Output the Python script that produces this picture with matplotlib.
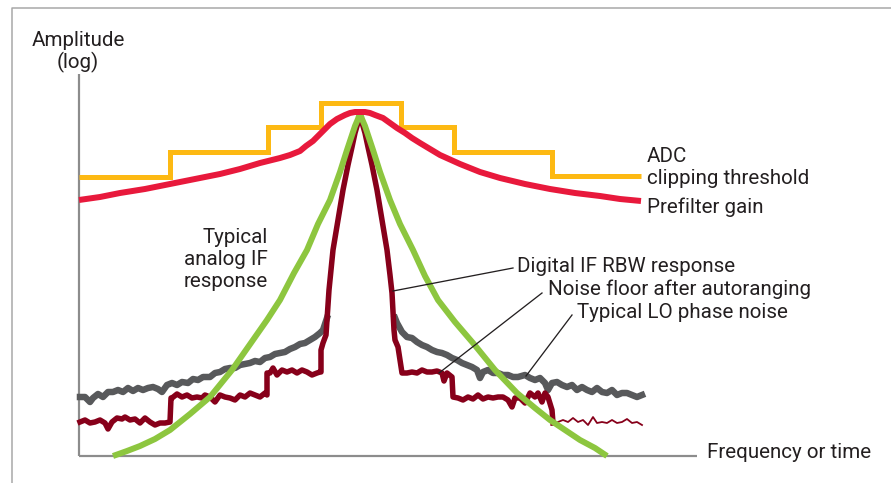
import matplotlib
matplotlib.use("Agg")
import matplotlib.pyplot as plt
from matplotlib import font_manager

# ---------------- data (chart units: x = frequency position, y = level, screen-down) ----
# ADC clipping threshold (stepped)
adc_x = [79, 170, 268, 321, 401, 454, 552, 641]
adc_y = [177, 152, 127, 103, 127, 152, 176, 176]

# Prefilter gain
pre_x = [79, 100, 120, 145, 170, 195, 220, 240, 260, 280, 290, 300, 306, 313, 322, 330, 337, 345, 350, 355,
         360, 365, 370, 375, 383, 390, 397, 405, 412, 420, 430, 440, 460, 480, 500, 525, 550, 575, 600, 620, 641]
pre_y = [200, 197, 193, 189, 184, 179, 174, 169, 163, 158, 155, 151, 146, 141, 132, 124, 119, 115, 113, 112,
         112, 112, 113, 115, 118, 123, 128, 133, 138, 143, 149, 155, 164, 172, 178, 184, 189, 193, 196, 199, 201]

# Typical analog IF response
ana_x = [113, 127, 140, 155, 170, 190, 210, 232, 253, 267, 280, 294, 307, 318, 330, 340, 347, 352, 355, 358, 360,
         362, 365, 368, 373, 380, 390, 400, 413, 425, 438, 455, 473, 495, 517, 535, 550, 565, 580, 595, 607]
ana_y = [456, 451, 446, 439, 430, 414, 397, 370, 340, 320, 300, 273, 250, 224, 200, 172, 150, 135, 126, 119, 113,
         119, 126, 135, 150, 172, 200, 224, 250, 276, 300, 322, 343, 370, 393, 408, 420, 430, 440, 448, 456]

# Typical LO phase noise
lo_x = [80, 85, 90, 93, 98, 103, 108, 113, 118, 123, 128, 133, 138, 143, 148, 153, 158, 162, 167, 172,
        177, 182, 188, 193, 198, 203, 210, 215, 220, 225, 230, 235, 240, 245, 250, 255, 260, 265, 270,
        275, 280, 285, 290, 295, 300, 305, 310, 315, 320, 323, 327,
        395, 397, 402, 407, 412, 417, 422, 427, 432, 437, 442, 447, 452, 457, 462, 467, 472, 477, 480,
        483, 488, 493, 498, 503, 508, 513, 518, 525, 530, 535, 540, 545, 548, 552, 557, 562, 567, 572,
        577, 582, 587, 592, 597, 602, 607, 612, 617, 622, 627, 632, 637, 642]
lo_y = [397, 397, 402, 398, 394, 397, 392, 392, 390, 392, 388, 391, 388, 390, 388, 387, 389, 392, 385, 383,
        385, 382, 383, 379, 380, 377, 377, 373, 372, 369, 368, 368, 365, 364, 363, 361, 362, 358, 357,
        354, 353, 352, 349, 347, 344, 343, 340, 337, 333, 330, 318,
        318, 323, 332, 337, 338, 342, 345, 347, 350, 352, 353, 355, 358, 360, 363, 365, 367, 370, 378,
        372, 370, 373, 373, 375, 375, 377, 377, 375, 378, 380, 378, 383, 390, 383, 382, 385, 387, 385,
        390, 387, 390, 392, 388, 392, 393, 390, 395, 393, 393, 395, 397, 395]

# Digital IF RBW response + noise floor after autoranging (thick part)
rbw_x = [80, 85, 90, 95, 100, 105, 108, 112, 117, 122, 125, 130, 135, 140, 145, 150, 155, 160, 165, 170,
         171, 172, 177, 182, 187, 192, 197, 202, 205, 210, 215, 220, 225, 230, 235, 240, 245, 250, 255,
         260, 265, 267, 267, 270, 273, 277, 282, 287, 292, 297, 302, 307, 312, 317, 320,
         321, 321, 323, 326, 329, 333, 338, 343, 348, 352, 355, 357, 360, 363, 365, 368, 372, 377, 382,
         387, 390, 392, 394, 395, 398, 400,
         402, 407, 412, 417, 422, 427, 432, 437, 442, 444, 447, 452, 453,
         458, 463, 468, 473, 478, 483, 488, 493, 498, 503, 508, 512, 515, 520, 525, 530, 535, 538,
         542, 545, 548, 552, 553]
rbw_y = [422, 420, 423, 422, 420, 423, 429, 422, 418, 419, 417, 420, 419, 423, 418, 422, 425, 423, 423, 422,
         398, 398, 394, 397, 395, 398, 397, 398, 395, 397, 402, 395, 397, 398, 400, 395, 397, 393, 395,
         397, 393, 395, 373, 373, 368, 375, 370, 372, 370, 373, 370, 372, 375, 373, 372,
         372, 350, 343, 335, 290, 250, 220, 190, 165, 147, 133, 126, 116, 126, 133, 147, 165, 190, 220,
         250, 275, 293, 330, 340, 347, 360,
         373, 373, 372, 373, 370, 372, 372, 371, 373, 381, 373, 377, 397,
         398, 400, 397, 399, 395, 399, 397, 398, 397, 397, 400, 407, 398, 398, 403, 393, 397, 393,
         402, 393, 397, 410, 423]

# Noise floor tail (thin)
tail_x = [553, 558, 563, 568, 573, 578, 583, 588, 593, 597, 602, 607, 612, 617, 622, 627, 632, 637, 642]
tail_y = [423, 422, 420, 422, 418, 422, 420, 425, 417, 423, 422, 423, 420, 423, 422, 419, 423, 422, 425]

# Axis geometry (chart frame)
x_axis_x = [79, 697]
x_axis_y = [456, 456]
y_axis_x = [79, 79]
y_axis_y = [74, 456]

# Annotation leader lines: (from, to)
leaders = {
    "Digital IF RBW response": ((393, 291), (513, 268)),
    "Noise floor after autoranging": ((439, 373), (542, 293)),
    "Typical LO phase noise": ((526, 376), (572, 315)),
}

# ---------------- style ----------------
ORANGE = "#FDB913"
RED = "#E8193C"
GREEN = "#8DC63F"
DKRED = "#87001A"
GRAY = "#58595B"
AXIS = "#8C8C8C"
TXT = "#231F20"

names = {f.name for f in font_manager.fontManager.ttflist}
FONT = "Roboto" if "Roboto" in names else "DejaVu Sans"
FS = 14.8

W, H = 891, 483
fig = plt.figure(figsize=(W / 100, H / 100), dpi=100)
ax = fig.add_axes([0, 0, 1, 1])
ax.set_xlim(0, W)
ax.set_ylim(H, 0)
ax.axis("off")

px = 0.72  # points per pixel

# outer frame (left + top)
ax.plot([11.5, 11.5, W + 5], [H + 5, 7.5, 7.5], color="#A6A6A6", lw=1.5 * px, solid_capstyle="butt")

# axes
ax.plot(x_axis_x, x_axis_y, color=AXIS, lw=2.2 * px, solid_capstyle="butt")
ax.plot(y_axis_x, y_axis_y, color=AXIS, lw=2.2 * px, solid_capstyle="butt")

# curves
ax.plot(adc_x, adc_y, drawstyle="steps-post", color=ORANGE, lw=5 * px, solid_joinstyle="miter",
        solid_capstyle="butt", zorder=3)
ax.plot(lo_x[:51], lo_y[:51], color=GRAY, lw=6.5 * px, zorder=4, solid_joinstyle="round")
ax.plot(lo_x[51:], lo_y[51:], color=GRAY, lw=6.5 * px, zorder=4, solid_joinstyle="round")
ax.plot(rbw_x, rbw_y, color=DKRED, lw=5.5 * px, zorder=5, solid_joinstyle="round")
ax.plot(tail_x, tail_y, color=DKRED, lw=1.8 * px, zorder=5)
ax.plot(ana_x, ana_y, color=GREEN, lw=6 * px, zorder=6, solid_capstyle="butt")
ax.plot(pre_x, pre_y, color=RED, lw=6 * px, zorder=7, solid_capstyle="butt")

# leader lines
for (p0, p1) in leaders.values():
    ax.plot([p0[0], p1[0]], [p0[1], p1[1]], color=TXT, lw=1.3 * px, zorder=8)

tk = dict(family=FONT, fontsize=FS, color=TXT)
ax.text(78, 46, "Amplitude", ha="center", va="baseline", **tk)
ax.text(78, 68, "(log)", ha="center", va="baseline", **tk)
ax.text(707, 458, "Frequency or time", ha="left", va="baseline", **tk)
ax.text(647, 162, "ADC", ha="left", va="baseline", **tk)
ax.text(647, 184, "clipping threshold", ha="left", va="baseline", **tk)
ax.text(647, 213, "Prefilter gain", ha="left", va="baseline", **tk)
ax.text(268, 243, "Typical", ha="right", va="baseline", **tk)
ax.text(268, 265, "analog IF", ha="right", va="baseline", **tk)
ax.text(268, 287, "response", ha="right", va="baseline", **tk)
ax.text(517, 272, "Digital IF RBW response", ha="left", va="baseline", **tk)
ax.text(548, 295, "Noise floor after autoranging", ha="left", va="baseline", **tk)
ax.text(577, 318, "Typical LO phase noise", ha="left", va="baseline", **tk)

fig.savefig("out.png", dpi=100)
